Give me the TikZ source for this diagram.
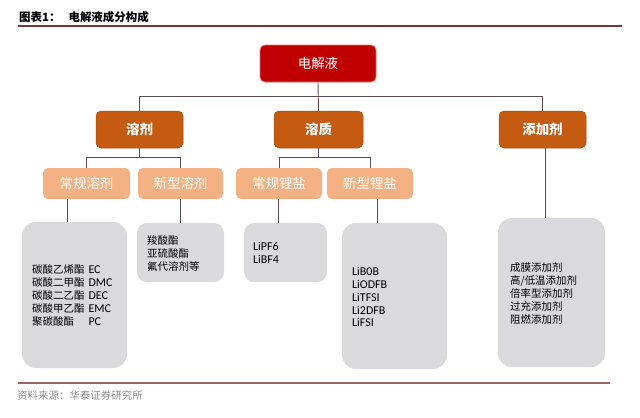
\documentclass[tikz,border=0pt]{standalone}
\usepackage{fontspec}
\setmainfont{Noto Sans CJK SC}
\newfontfamily\latinf{Carlito}
\definecolor{lvaone}{HTML}{C00000}
\definecolor{lvaoneb}{HTML}{E87070}
\definecolor{lvatwo}{HTML}{C55A11}
\definecolor{lvathree}{HTML}{F4B183}
\definecolor{graybox}{HTML}{DADADC}
\definecolor{connc}{HTML}{5E4A52}
\definecolor{rulec}{HTML}{7A3434}
\definecolor{rulecb}{HTML}{9A6464}
\begin{document}
\begin{tikzpicture}[x=1bp,y=-1bp,
  boxone/.style={rectangle,rounded corners=5bp,fill=lvaone,draw=lvaoneb,line width=0.8bp,inner sep=0pt,text=white,font=\fontsize{13.5}{14}\selectfont},
  boxtwo/.style={rectangle,rounded corners=5bp,fill=lvatwo,draw=lvatwo!85!black,line width=0.5bp,inner sep=0pt,text=white,font=\bfseries\fontsize{13.5}{14}\selectfont,minimum height=37bp},
  boxthree/.style={rectangle,rounded corners=5bp,fill=lvathree,inner sep=0pt,text=white,font=\fontsize{13.5}{14}\selectfont,minimum height=31bp},
  graycard/.style={rectangle,rounded corners=14bp,fill=graybox,inner sep=0pt},
  cardtext/.style={anchor=west,inner sep=0pt,align=left,font=\fontsize{10.5}{13}\selectfont},
  conn/.style={draw=connc,line width=0.9bp}
]
\useasboundingbox[fill=white] (0,0) rectangle (640,417);

% title and rules
\node[anchor=west,inner sep=0pt,font=\bfseries\fontsize{11.5}{12}\selectfont] (title) at (19,17) {图表1：\hspace{8bp}电解液成分构成};
\draw[rulec,line width=1.2bp] (18,26) -- (622,26);
\draw[rulecb,line width=2bp] (18,383) -- (610,383);
\node[anchor=west,inner sep=0pt,text=black!45,font=\fontsize{10.5}{12}\selectfont] (src) at (17,395) {资料来源：华泰证券研究所};

% level 1 and 2
\node[boxone,minimum width=116bp,minimum height=37bp] (top) at (318,63.5) {电解液};
\node[boxtwo,minimum width=87bp] (rongji) at (139.5,129.5) {溶剂};
\node[boxtwo,minimum width=89bp] (rongzhi) at (318.5,129.5) {溶质};
\node[boxtwo,minimum width=87bp] (tianjia) at (542.5,129.5) {添加剂};

% level 3
\node[boxthree,minimum width=87bp] (crj) at (86.5,183.5) {常规溶剂};
\node[boxthree,minimum width=85bp] (xrj) at (180.5,183.5) {新型溶剂};
\node[boxthree,minimum width=86bp] (cgy) at (279,183.5) {常规锂盐};
\node[boxthree,minimum width=86bp] (xly) at (370,183.5) {新型锂盐};

% level 4 cards
\node[graycard,minimum width=105bp,minimum height=146bp] (b1) at (74.5,295) {};
\node[graycard,minimum width=87bp,minimum height=59bp,rounded corners=10bp] (b2) at (180.5,252.5) {};
\node[graycard,minimum width=83bp,minimum height=59bp,rounded corners=10bp] (b3) at (285.5,252.5) {};
\node[graycard,minimum width=105bp,minimum height=146bp] (b4) at (394.5,296) {};
\node[graycard,minimum width=107bp,minimum height=149bp] (b5) at (551.5,292.5) {};

\node[cardtext] (t1) at (32,296.5) {\begin{tabular}{@{}l@{\hspace{4bp}}l@{}}
碳酸乙烯酯 & {\latinf\fontsize{12}{13}\selectfont EC}\\
碳酸二甲酯 & {\latinf\fontsize{12}{13}\selectfont DMC}\\
碳酸二乙酯 & {\latinf\fontsize{12}{13}\selectfont DEC}\\
碳酸甲乙酯 & {\latinf\fontsize{12}{13}\selectfont EMC}\\
聚碳酸酯 & {\latinf\fontsize{12}{13}\selectfont PC}
\end{tabular}};
\node[cardtext] (t2) at (147,253.5) {羧酸酯\\亚硫酸酯\\氟代溶剂等};
\node[cardtext,font=\latinf\fontsize{12}{13.5}\selectfont] (t3) at (253,253) {LiPF6\\LiBF4};
\node[cardtext,font=\latinf\fontsize{12}{13}\selectfont] (t4) at (352,297) {LiB0B\\LiODFB\\LiTFSI\\Li2DFB\\LiFSI};
\node[cardtext] (t5) at (510,293.5) {成膜添加剂\\高/低温添加剂\\倍率型添加剂\\过充添加剂\\阻燃添加剂};

% connectors
\draw[conn] (top.south) -- (rongzhi.north);
\draw[conn] (rongji.north) -- (rongji.north |- 0,96) -| (tianjia.north);
\draw[conn] (rongji.south) -- (rongji.south |- 0,157);
\draw[conn] (crj.north) -- (crj.north |- 0,157) -| (xrj.north);
\draw[conn] (rongzhi.south) -- (rongzhi.south |- 0,157);
\draw[conn] (cgy.north) -- (cgy.north |- 0,157) -| (xly.north);
\draw[conn] (crj.south -| 67,0) -- (b1.north -| 67,0);
\draw[conn] (xrj.south) -- (b2.north);
\draw[conn] (cgy.south -| 278,0) -- (b3.north -| 278,0);
\draw[conn] (xly.south -| 377,0) -- (b4.north -| 377,0);
\draw[conn] (tianjia.south -| 545,0) -- (b5.north -| 545,0);
\end{tikzpicture}
\end{document}
